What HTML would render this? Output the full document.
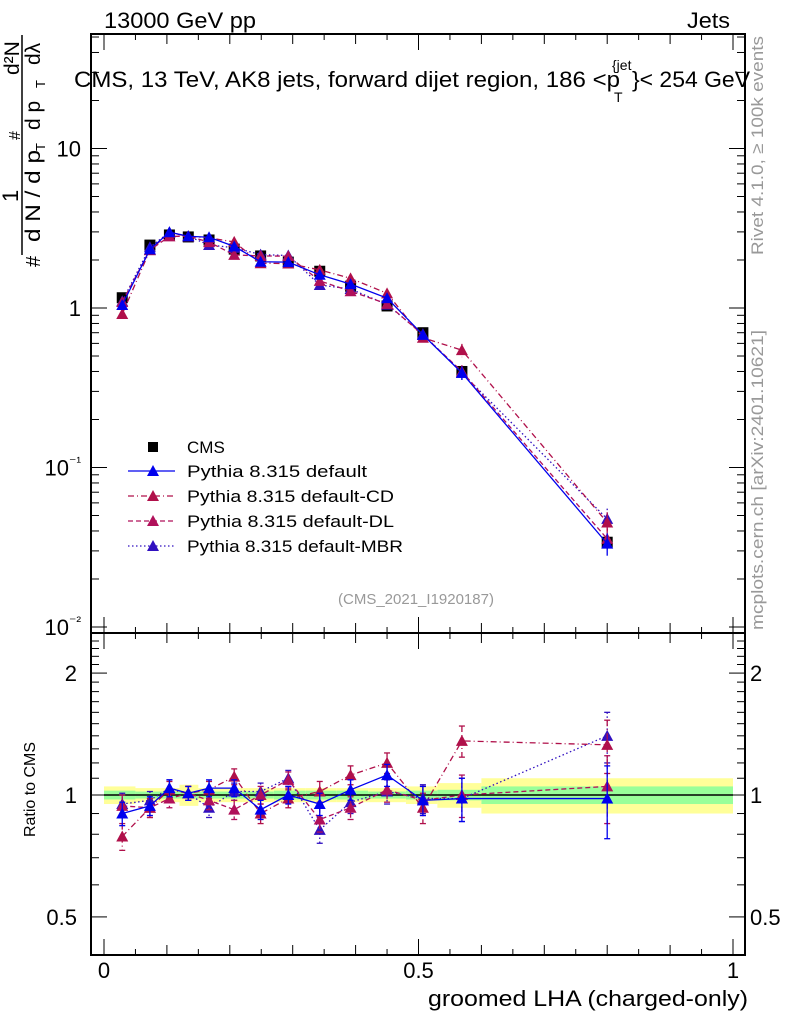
<!DOCTYPE html>
<html><head><meta charset="utf-8"><style>
body{margin:0;background:#fff;}
svg text{font-family:"Liberation Sans",sans-serif;}
</style></head><body>
<svg id="chart" width="786" height="1024" xmlns="http://www.w3.org/2000/svg">
<g id="bands"></g>
<g id="marks"></g>
<g id="axes"></g>
<text x="104" y="28" font-size="22" textLength="152" lengthAdjust="spacingAndGlyphs">13000 GeV pp</text>
<text x="687" y="28" font-size="22" textLength="43" lengthAdjust="spacingAndGlyphs">Jets</text>
<g>
<text x="74" y="87" font-size="22" textLength="546" lengthAdjust="spacingAndGlyphs">CMS, 13 TeV, AK8 jets, forward dijet region, 186 &lt;p</text>
<text x="612" y="70" font-size="14">{jet</text>
<text x="614" y="102" font-size="14">T</text>
<text x="632" y="87" font-size="22" textLength="118" lengthAdjust="spacingAndGlyphs">}&lt; 254 GeV</text>
</g>
<text x="416" y="604" font-size="15" fill="#999" text-anchor="middle">(CMS_2021_I1920187)</text>
<text x="428" y="1006" font-size="22" textLength="320" lengthAdjust="spacingAndGlyphs">groomed LHA (charged-only)</text>
<text transform="translate(35,837) rotate(-90)" font-size="16" textLength="95" lengthAdjust="spacingAndGlyphs">Ratio to CMS</text>
<g transform="translate(40,270) rotate(-90)">
<text x="3" y="0" font-size="20">#</text>
<text x="28" y="0" font-size="21" textLength="92" lengthAdjust="spacingAndGlyphs">d N / d p</text>
<text x="119" y="5" font-size="13">T</text>
<line x1="15" y1="-18" x2="235" y2="-18" stroke="#000" stroke-width="1.5"/>
<text x="68" y="-22" font-size="22">1</text>
<text x="130" y="-20" font-size="16">#</text>
<text x="140" y="0" font-size="21">d p</text>
<text x="182" y="5" font-size="13">T</text>
<text x="205" y="0" font-size="21">dλ</text>
<text x="195" y="-21" font-size="21">d²N</text>
</g>
<text transform="translate(763,255) rotate(-90)" font-size="17" fill="#999" textLength="219" lengthAdjust="spacingAndGlyphs">Rivet 4.1.0, ≥ 100k events</text>
<text transform="translate(763,630) rotate(-90)" font-size="17" fill="#999" textLength="300" lengthAdjust="spacingAndGlyphs">mcplots.cern.ch [arXiv:2401.10621]</text>
<g id="legend"></g>
</svg>
<script>
const xs = [0.029,0.073,0.104,0.134,0.167,0.207,0.249,0.293,0.343,0.392,0.45,0.507,0.569,0.8];
const cmsVals = [1.16,2.48,2.87,2.79,2.67,2.34,2.12,1.94,1.70,1.37,1.03,0.70,0.40,0.034];
const cmsErr = [0.06,0.08,0.08,0.07,0.07,0.07,0.06,0.06,0.06,0.05,0.04,0.03,0.02,0.003];
const ratioDefault = [0.90,0.94,1.04,1.01,1.04,1.04,0.92,1.0,0.95,1.03,1.12,0.97,0.98,0.98];
const ratioCD = [0.79,0.93,1.03,1.01,1.03,1.11,0.90,0.98,1.02,1.12,1.20,0.93,1.36,1.33];
const ratioDL = [0.94,0.93,0.98,1.01,0.97,0.92,1.0,1.09,0.87,0.93,1.03,0.97,1.0,1.05];
const ratioMBR = [0.95,0.97,1.04,1.01,0.93,1.02,1.02,1.1,0.82,0.96,1.02,0.98,0.98,1.4];
const ratioErr = [0.06,0.05,0.05,0.04,0.05,0.05,0.05,0.05,0.06,0.06,0.07,0.08,0.12,0.2];
const binEdges = [0,0.05,0.09,0.12,0.15,0.19,0.23,0.27,0.32,0.37,0.42,0.48,0.53,0.6,1.0];
const bandInner = [0.025,0.02,0.02,0.02,0.02,0.02,0.02,0.025,0.025,0.025,0.02,0.025,0.03,0.05];
const bandOuter = [0.05,0.04,0.04,0.06,0.04,0.04,0.04,0.04,0.04,0.04,0.04,0.05,0.07,0.1];
const yTickMain = ["10","1","10⁻¹","10⁻²"];

const NS="http://www.w3.org/2000/svg";
const L=91,R=745,T=34,MB=633,RB=955;
const X=v=>104+629*v;
const Y=v=>308-159.5*Math.log10(v);
const YR=v=>795-405*Math.log10(v);
function mk(tag,attrs,parent){const e=document.createElementNS(NS,tag);for(const k in attrs)e.setAttribute(k,attrs[k]);parent.appendChild(e);return e;}
const bands=document.getElementById('bands'),marks=document.getElementById('marks'),axes=document.getElementById('axes'),legend=document.getElementById('legend');

for(let i=0;i<binEdges.length-1;i++){
  const y1=mk('rect',{x:X(binEdges[i]),width:X(binEdges[i+1])-X(binEdges[i]),y:YR(1+bandOuter[i]),height:YR(1-bandOuter[i])-YR(1+bandOuter[i]),fill:'#ffff99'},bands);
  
  
  const g1=mk('rect',{x:X(binEdges[i]),width:X(binEdges[i+1])-X(binEdges[i]),y:YR(1+bandInner[i]),height:YR(1-bandInner[i])-YR(1+bandInner[i]),fill:'#99ff99'},bands);
  
  
}
mk('line',{x1:X(0),x2:X(1),y1:YR(1),y2:YR(1),stroke:'#000','stroke-width':1.5},bands);

function tri(x,y,c,p){return mk('polygon',{points:`${x-6},${y+5} ${x+6},${y+5} ${x},${y-6}`,fill:c},p);}
const series=[
 {name:'default',lab:'Pythia 8.315 default',c:'#0000ee',dash:'',r:ratioDefault},
 {name:'default-cd',lab:'Pythia 8.315 default-CD',c:'#b0104a',dash:'6,3,1,3',r:ratioCD},
 {name:'default-dl',lab:'Pythia 8.315 default-DL',c:'#b0105a',dash:'5,3',r:ratioDL},
 {name:'default-mbr',lab:'Pythia 8.315 default-MBR',c:'#3010c0',dash:'1.5,2.5',r:ratioMBR}
];
const cg=mk('g',{},marks);


xs.forEach((x,i)=>{
  mk('line',{x1:X(x),x2:X(x),y1:Y(cmsVals[i]+cmsErr[i]),y2:Y(cmsVals[i]-cmsErr[i]),stroke:'#000','stroke-width':1.5},cg);
  const s=mk('rect',{x:X(x)-5.5,y:Y(cmsVals[i])-5.5,width:11,height:11,fill:'#000'},cg);
  
  
});
series.slice().reverse().forEach(s=>{
  const g=mk('g',{},marks);
  
  
  const mp=xs.map((x,i)=>`${X(x)},${Y(cmsVals[i]*s.r[i])}`).join(' ');
  const rp=xs.map((x,i)=>`${X(x)},${YR(s.r[i])}`).join(' ');
  mk('polyline',{points:mp,fill:'none',stroke:s.c,'stroke-width':1.3,'stroke-dasharray':s.dash},g);
  mk('polyline',{points:rp,fill:'none',stroke:s.c,'stroke-width':1.3,'stroke-dasharray':s.dash},g);
  xs.forEach((x,i)=>{
    const v=cmsVals[i]*s.r[i];
    mk('line',{x1:X(x),x2:X(x),y1:Y(v*(1+ratioErr[i]*0.8)),y2:Y(v*(1-ratioErr[i]*0.8)),stroke:s.c,'stroke-width':1.3,'stroke-dasharray':s.dash},g);
    const t=tri(X(x),Y(v),s.c,g);
    
    
    mk('line',{x1:X(x),x2:X(x),y1:YR(s.r[i]+ratioErr[i]),y2:YR(s.r[i]-ratioErr[i]),stroke:s.c,'stroke-width':1.3,'stroke-dasharray':s.dash},g);
    mk('line',{x1:X(x)-3,x2:X(x)+3,y1:YR(s.r[i]+ratioErr[i]),y2:YR(s.r[i]+ratioErr[i]),stroke:s.c,'stroke-width':1.3},g);
    mk('line',{x1:X(x)-3,x2:X(x)+3,y1:YR(s.r[i]-ratioErr[i]),y2:YR(s.r[i]-ratioErr[i]),stroke:s.c,'stroke-width':1.3},g);
    const t2=tri(X(x),YR(s.r[i]),s.c,g);
    
    
  });
});
const ly=[447,471,496,521,546];
mk('rect',{x:148,y:ly[0]-5,width:10,height:10,fill:'#000'},legend);
const lt0=mk('text',{x:187,y:ly[0]+6,'font-size':17},legend);lt0.textContent='CMS';


series.forEach((s,k)=>{
  const y=ly[k+1];
  mk('line',{x1:128,x2:175,y1:y,y2:y,stroke:s.c,'stroke-width':1.3,'stroke-dasharray':s.dash},legend);
  tri(153,y,s.c,legend);
  const t=mk('text',{x:187,y:y+6,'font-size':17,textLength:s.lab.length*9,lengthAdjust:'spacingAndGlyphs'},legend);t.textContent=s.lab;
  
  
});
[[T,MB],[MB,RB]].forEach(([a,b])=>mk('rect',{x:L,y:a,width:R-L,height:b-a,fill:'none',stroke:'#000','stroke-width':2},axes));
for(let k=0;k<=20;k++){
  const v=k*0.05;
  const len=(k%10==0)?16:(k%2==0?10:6);
  [T,MB,RB].forEach(y0=>{
    if(y0!==T) mk('line',{x1:X(v),x2:X(v),y1:y0,y2:y0-len,stroke:'#000','stroke-width':1},axes);
    if(y0!==RB) mk('line',{x1:X(v),x2:X(v),y1:y0,y2:y0+len,stroke:'#000','stroke-width':1},axes);
  });
}
['0','0.5','1'].forEach((t,i)=>{const e=mk('text',{x:X(i*0.5),y:978,'font-size':22,'text-anchor':'middle'},axes);e.textContent=t;

});
for(let d=-2;d<=1;d++){
  for(let m=1;m<10;m++){
    const v=m*Math.pow(10,d);const y=Y(v);if(y<T||y>MB)continue;
    const len=m==1?16:8;
    mk('line',{x1:L,x2:L+len,y1:y,y2:y,stroke:'#000'},axes);
    mk('line',{x1:R,x2:R-len,y1:y,y2:y,stroke:'#000'},axes);
  }
}
[10,1,0.1,0.01].forEach((v,i)=>{
  const t=yTickMain[i];
  const e=mk('text',{x:81,y:Y(v)+8,'font-size':22,'text-anchor':'end'},axes);
  if(t.length>2){e.textContent='10';const ts=mk('tspan',{dy:-9,'font-size':14},e);ts.textContent=t.slice(2);}else e.textContent=t;
  
  
});
[0.5,0.6,0.7,0.8,0.9,1,1.1,1.2,1.3,1.4,1.5,1.6,1.7,1.8,1.9,2,2.1,2.2,2.3,2.4].forEach(v=>{
  const y=YR(v);if(y<MB||y>RB)return;
  const len=(v==0.5||v==1||v==2)?16:8;
  mk('line',{x1:L,x2:L+len,y1:y,y2:y,stroke:'#000'},axes);
  mk('line',{x1:R,x2:R-len,y1:y,y2:y,stroke:'#000'},axes);
});
[['2',2],['1',1],['0.5',0.5]].forEach(([t,v])=>{
  const e=mk('text',{x:77,y:YR(v)+8,'font-size':22,'text-anchor':'end'},axes);e.textContent=t;
  
  
  const e2=mk('text',{x:750,y:YR(v)+8,'font-size':22},axes);e2.textContent=t;
  
  
});
</script>
</body></html>
